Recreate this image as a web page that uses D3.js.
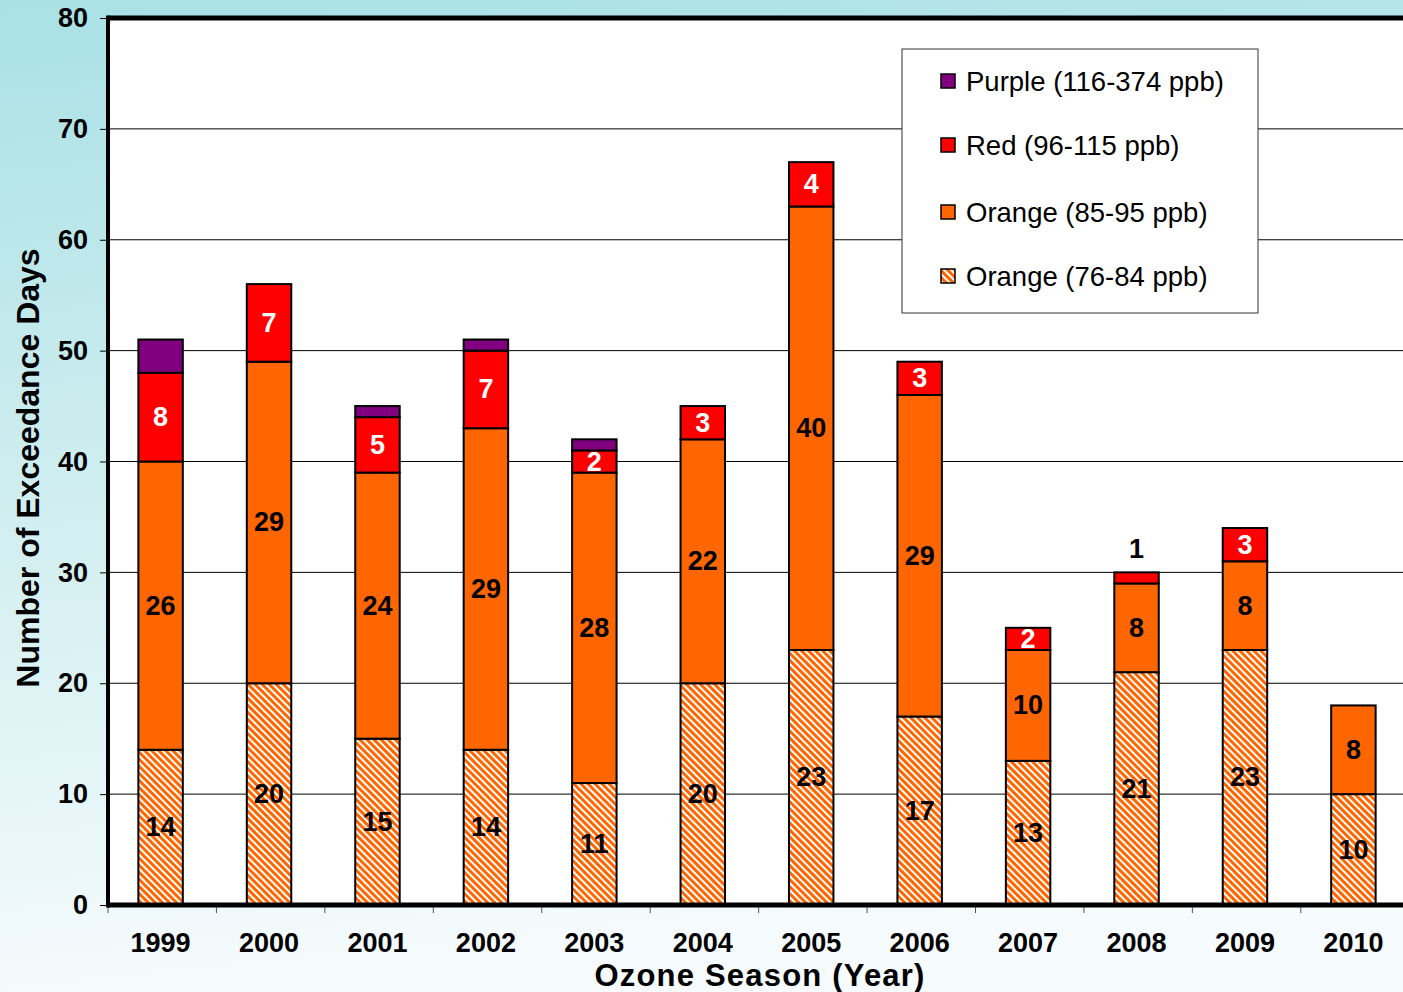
<!DOCTYPE html>
<html>
<head>
<meta charset="utf-8">
<script src="https://cdn.jsdelivr.net/npm/d3@7"></script>
<style>
  html, body { margin: 0; padding: 0; }
  svg { display: block; font-family: "Liberation Sans", Arial, sans-serif; }
</style>
</head>
<body>
<div id="chart"></div>
<script>
const YEARS = ["1999", "2000", "2001", "2002", "2003", "2004", "2005", "2006", "2007", "2008", "2009", "2010"]
const ORANGE_LOW = [14, 20, 15, 14, 11, 20, 23, 17, 13, 21, 23, 10]   // 76-84 ppb (hatched)
const ORANGE_HIGH = [26, 29, 24, 29, 28, 22, 40, 29, 10, 8, 8, 8]    // 85-95 ppb
const RED = [8, 7, 5, 7, 2, 3, 4, 3, 2, 1, 3, 0]                      // 96-115 ppb
const PURPLE = [3, 0, 1, 1, 1, 0, 0, 0, 0, 0, 0, 0]                   // 116-374 ppb
const Y_TICKS = [0, 10, 20, 30, 40, 50, 60, 70, 80]

const SERIES = [
  { key: "low", label: "Orange (76-84 ppb)", values: ORANGE_LOW },
  { key: "high", label: "Orange (85-95 ppb)", values: ORANGE_HIGH },
  { key: "red", label: "Red (96-115 ppb)", values: RED },
  { key: "purple", label: "Purple (116-374 ppb)", values: PURPLE },
]

const width = 1403
const height = 992
const plotLeft = 108
const plotTop = 18
const plotBottom = 905
const plotRight = 1406   // plot runs off the right edge like the original

const rows = YEARS.map((year, i) => {
  const r = { year }
  SERIES.forEach(s => { r[s.key] = s.values[i] })
  return r
})
const stacked = d3.stack().keys(SERIES.map(s => s.key))(rows)

const x = d3.scaleBand()
  .domain(YEARS)
  .range([plotLeft, plotRight])
  .paddingInner(0.59)
  .paddingOuter(0.28)

const y = d3.scaleLinear().domain([0, 80]).range([plotBottom, plotTop])

const svg = d3.select("#chart").append("svg")
  .attr("width", width)
  .attr("height", height)

const defs = svg.append("defs")
const bg = defs.append("linearGradient")
  .attr("id", "bg").attr("x1", 0).attr("y1", 0).attr("x2", 0.15).attr("y2", 1)
bg.append("stop").attr("offset", "0%").attr("stop-color", "#a9e1e5")
bg.append("stop").attr("offset", "55%").attr("stop-color", "#d4eff1")
bg.append("stop").attr("offset", "100%").attr("stop-color", "#f6fbfd")

// "\" stripes for the 76-84 ppb band
const hatch = defs.append("pattern")
  .attr("id", "hatch")
  .attr("patternUnits", "userSpaceOnUse")
  .attr("width", 5).attr("height", 5)
  .attr("patternTransform", "rotate(-45)")
hatch.append("rect").attr("width", 5).attr("height", 5).attr("fill", "#ffffff")
hatch.append("rect").attr("width", 3).attr("height", 5).attr("fill", "#ff6600")

const fills = { low: "url(#hatch)", high: "#ff6600", red: "#ff0000", purple: "#800080" }

svg.append("rect").attr("width", width).attr("height", height).attr("fill", "url(#bg)")

// plot area
svg.append("rect")
  .attr("x", plotLeft).attr("y", plotTop)
  .attr("width", plotRight - plotLeft).attr("height", plotBottom - plotTop)
  .attr("fill", "#ffffff")

// gridlines
svg.append("g")
  .selectAll("line")
  .data(Y_TICKS.filter(t => t > 0 && t < 80))
  .join("line")
  .attr("x1", plotLeft).attr("x2", plotRight)
  .attr("y1", d => y(d)).attr("y2", d => y(d))
  .attr("stroke", "#000").attr("stroke-width", 1)

// y axis ticks + labels
const yAxis = svg.append("g")
  .attr("transform", `translate(${plotLeft},0)`)
  .call(d3.axisLeft(y).tickValues(Y_TICKS).tickSize(8).tickPadding(12))
yAxis.select(".domain").remove()
yAxis.selectAll(".tick line").attr("stroke", "#000").attr("stroke-width", 1)
yAxis.selectAll(".tick text")
  .attr("font-family", "Liberation Sans, Arial, sans-serif")
  .attr("font-size", 27).attr("font-weight", "bold").attr("fill", "#000")

// x ticks between categories
const step = x.step()
const xTicks = d3.range(YEARS.length + 1).map(i => plotLeft + i * step)
svg.append("g")
  .selectAll("line")
  .data(xTicks)
  .join("line")
  .attr("x1", d => d).attr("x2", d => d)
  .attr("y1", plotBottom).attr("y2", plotBottom + 8)
  .attr("stroke", "#555").attr("stroke-width", 1)

svg.append("g")
  .selectAll("text")
  .data(YEARS)
  .join("text")
  .attr("x", d => x(d) + x.bandwidth() / 2)
  .attr("y", 952)
  .attr("text-anchor", "middle")
  .attr("font-size", 27).attr("font-weight", "bold")
  .text(d => d)

// bars
const layers = svg.append("g")
  .selectAll("g")
  .data(stacked)
  .join("g")
  .attr("fill", d => fills[d.key])

layers.selectAll("rect")
  .data(d => d.filter(s => s[1] > s[0]))
  .join("rect")
  .attr("x", d => x(d.data.year))
  .attr("width", x.bandwidth())
  .attr("y", d => y(d[1]))
  .attr("height", d => y(d[0]) - y(d[1]))
  .attr("stroke", "#000")
  .attr("stroke-width", 2)

// segment labels
const labelLayers = stacked.filter(l => l.key !== "purple")
labelLayers.forEach(layer => {
  svg.append("g")
    .selectAll("text")
    .data(layer.filter(s => s[1] > s[0]))
    .join("text")
    .attr("x", d => x(d.data.year) + x.bandwidth() / 2)
    .attr("y", d => {
      const v = d[1] - d[0]
      if (layer.key === "red" && v < 2) return y(d[1]) - 14
      return y((d[0] + d[1]) / 2) + 9
    })
    .attr("text-anchor", "middle")
    .attr("font-size", 27).attr("font-weight", "bold")
    .attr("fill", d => (layer.key === "red" && d[1] - d[0] >= 2) ? "#fff" : "#000")
    .text(d => d[1] - d[0])
})

// axis frame: thick left, bottom and top lines
svg.append("line")
  .attr("x1", plotLeft).attr("x2", plotRight).attr("y1", plotTop).attr("y2", plotTop)
  .attr("stroke", "#000").attr("stroke-width", 5)
svg.append("line")
  .attr("x1", plotLeft).attr("x2", plotLeft).attr("y1", plotTop - 2.5).attr("y2", plotBottom + 2.5)
  .attr("stroke", "#000").attr("stroke-width", 4)
svg.append("line")
  .attr("x1", plotLeft).attr("x2", plotRight).attr("y1", plotBottom).attr("y2", plotBottom)
  .attr("stroke", "#000").attr("stroke-width", 5)

// legend
const legend = svg.append("g").attr("transform", "translate(902,49)")
legend.append("rect")
  .attr("width", 356).attr("height", 264)
  .attr("fill", "#fff").attr("stroke", "#333").attr("stroke-width", 1)
const legendItems = legend.selectAll("g")
  .data(SERIES.slice().reverse())
  .join("g")
  .attr("transform", (d, i) => `translate(0,${[32, 96, 163, 227][i]})`)
legendItems.append("rect")
  .attr("x", 39).attr("y", -7).attr("width", 14).attr("height", 14)
  .attr("fill", d => fills[d.key])
  .attr("stroke", "#000").attr("stroke-width", 1.5)
legendItems.append("text")
  .attr("x", 64).attr("y", 10)
  .attr("font-size", 27.5)
  .attr("fill", "#000")
  .text(d => d.label)

// axis titles
svg.append("text")
  .attr("transform", "translate(39,468) rotate(-90)")
  .attr("text-anchor", "middle")
  .attr("font-size", 32).attr("font-weight", "bold")
  .text("Number of Exceedance Days")

svg.append("text")
  .attr("x", 760).attr("y", 986)
  .attr("text-anchor", "middle")
  .attr("font-size", 31).attr("font-weight", "bold")
  .attr("letter-spacing", 1.2)
  .text("Ozone Season (Year)")
</script>
</body>
</html>
